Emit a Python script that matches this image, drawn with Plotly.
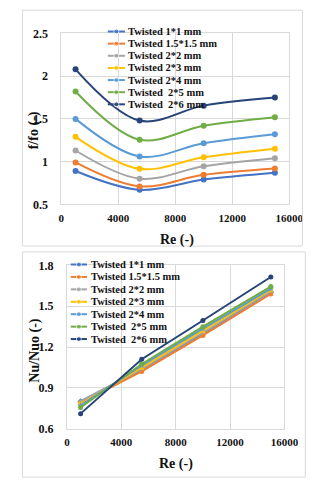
import plotly.graph_objects as go

W, H = 335, 480

re_vals = [1000, 5500, 10000, 15000]

series_names = ["Twisted 1*1 mm", "Twisted 1.5*1.5 mm", "Twisted 2*2 mm", "Twisted 2*3 mm",
                "Twisted 2*4 mm", "Twisted\u00a0 2*5 mm", "Twisted\u00a0 2*6 mm"]
series_colors = ["#4472C4", "#ED7D31", "#A5A5A5", "#FFC000", "#5B9BD5", "#70AD47", "#264478"]
nu_symbols = ["diamond", "circle", "triangle-up", "x", "star", "circle", "circle"]

# f/fo values (top chart)
f_1x1 = [0.89, 0.67, 0.79, 0.87]
f_15x15 = [0.99, 0.71, 0.845, 0.92]
f_2x2 = [1.13, 0.80, 0.945, 1.04]
f_2x3 = [1.29, 0.915, 1.05, 1.15]
f_2x4 = [1.50, 1.06, 1.215, 1.32]
f_2x5 = [1.82, 1.255, 1.42, 1.52]
f_2x6 = [2.08, 1.48, 1.655, 1.75]

# Nu/Nuo values (bottom chart)
nu_1x1 = [0.80, 1.035, 1.30, 1.605]
nu_15x15 = [0.79, 1.02, 1.285, 1.59]
nu_2x2 = [0.80, 1.04, 1.305, 1.61]
nu_2x3 = [0.78, 1.05, 1.32, 1.62]
nu_2x4 = [0.77, 1.065, 1.335, 1.63]
nu_2x5 = [0.755, 1.075, 1.35, 1.645]
nu_2x6 = [0.71, 1.11, 1.395, 1.715]

x_ticks = [0, 4000, 8000, 12000, 16000]
f_ticks = [0.5, 1, 1.5, 2, 2.5]
f_tick_labels = ["0.5", "1", "1.5", "2", "2.5"]
nu_ticks = [0.6, 0.9, 1.2, 1.5, 1.8]
nu_tick_labels = ["0.6", "0.9", "1.2", "1.5", "1.8"]

f_series = [f_1x1, f_15x15, f_2x2, f_2x3, f_2x4, f_2x5, f_2x6]
nu_series = [nu_1x1, nu_15x15, nu_2x2, nu_2x3, nu_2x4, nu_2x5, nu_2x6]

FONT = "Liberation Serif"
GRID = "#d9d9d9"


def px(x):
    return x / W


def py(y):
    return 1 - y / H


fig = go.Figure()

for name, col, ys in zip(series_names, series_colors, f_series):
    fig.add_trace(go.Scatter(
        x=re_vals, y=ys, name=name, mode="lines+markers",
        line=dict(color=col, width=2, shape="spline", smoothing=1),
        marker=dict(color=col, size=6, symbol="circle"),
        xaxis="x", yaxis="y", showlegend=False, cliponaxis=False))

for name, col, sym, ys in zip(series_names, series_colors, nu_symbols, nu_series):
    fig.add_trace(go.Scatter(
        x=re_vals, y=ys, name=name, mode="lines+markers",
        line=dict(color=col, width=2),
        marker=dict(color=col, size=5, symbol=sym),
        xaxis="x2", yaxis="y2", showlegend=False, cliponaxis=False))

# Custom compact legends (pixel overlay axis)
annotations = []
legend_specs = [
    dict(x0=102, x1=120, xt=121, y0=17, dy=12.5),
    dict(x0=63, x1=80, xt=82, y0=257, dy=12.8),
]
for spec in legend_specs:
    for i, (name, col) in enumerate(zip(series_names, series_colors)):
        yy = spec["y0"] + i * spec["dy"]
        fig.add_trace(go.Scatter(
            x=[spec["x0"], (spec["x0"] + spec["x1"]) / 2, spec["x1"]], y=[yy, yy, yy],
            mode="lines+markers", line=dict(color=col, width=2),
            marker=dict(color=col, size=[0, 5, 0]),
            xaxis="x3", yaxis="y3", showlegend=False, hoverinfo="skip"))
        annotations.append(dict(
            text=name, x=px(spec["xt"]), y=py(yy), xref="paper", yref="paper",
            xanchor="left", yanchor="middle", showarrow=False,
            font=dict(family=FONT, size=10.5, color="#111", weight="bold")))

# axis titles
for txt, x, y, ang, sz in [("Re (-)", 175, 232, 0, 14), ("Re (-)", 174, 462, 0, 14),
                           ("f/fo (-)", 24, 119, -90, 14), ("Nu/Nuo (-)", 25, 345, -90, 14)]:
    annotations.append(dict(
        text=txt, x=px(x), y=py(y), xref="paper", yref="paper", xanchor="center",
        yanchor="middle", showarrow=False, textangle=ang,
        font=dict(family=FONT, size=sz, color="#111", weight="bold")))

ytickfont = dict(family=FONT, size=12, color="#111", weight="bold")
xtickfont = dict(family=FONT, size=11, color="#111", weight="bold")
common_x = dict(range=[0, 16000], tickvals=x_ticks, ticktext=[str(v) for v in x_ticks],
                showgrid=True, gridcolor=GRID, gridwidth=1, showline=True, linecolor=GRID,
                mirror=True, zeroline=False, tickfont=xtickfont, ticks="", ticklabelstandoff=3)

fig.update_layout(
    width=W, height=H, margin=dict(l=0, r=0, t=0, b=0),
    paper_bgcolor="white", plot_bgcolor="rgba(0,0,0,0)",
    showlegend=False,
    xaxis=dict(domain=[px(53), px(293)], anchor="y", **common_x),
    yaxis=dict(domain=[py(195), py(19)], anchor="x", range=[0.5, 2.5], tickvals=f_ticks,
               ticktext=f_tick_labels, showgrid=True, gridcolor=GRID, showline=True,
               linecolor=GRID, mirror=True, zeroline=False, tickfont=ytickfont, ticks="",
               ticklabelstandoff=10),
    xaxis2=dict(domain=[px(59), px(288)], anchor="y2", **common_x),
    yaxis2=dict(domain=[py(426), py(258)], anchor="x2", range=[0.6, 1.8], tickvals=nu_ticks,
                ticktext=nu_tick_labels, showgrid=True, gridcolor=GRID, showline=True,
                linecolor=GRID, mirror=True, zeroline=False, tickfont=ytickfont, ticks="",
                ticklabelstandoff=10),
    xaxis3=dict(domain=[0, 1], anchor="y3", range=[0, W], visible=False, fixedrange=True),
    yaxis3=dict(domain=[0, 1], anchor="x3", range=[H, 0], visible=False, fixedrange=True),
    annotations=annotations,
    shapes=[
        dict(type="rect", xref="paper", yref="paper", x0=px(12), x1=px(307), y0=py(238), y1=py(-5),
             line=dict(color=GRID, width=1)),
        dict(type="rect", xref="paper", yref="paper", x0=px(12), x1=px(310), y0=py(476), y1=py(244),
             line=dict(color=GRID, width=1)),
    ],
)

fig.write_html("out.html")
